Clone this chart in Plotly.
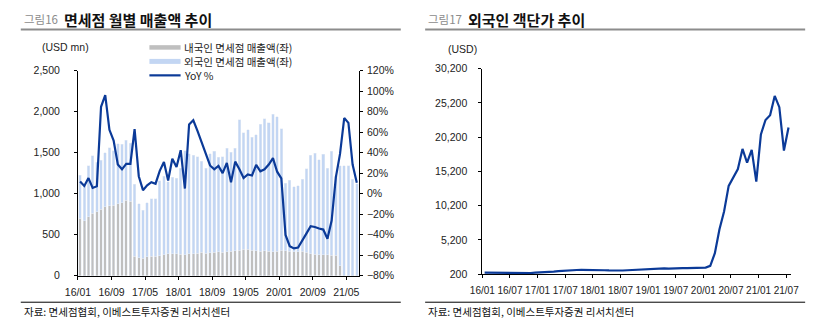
import numpy as np
import pandas as pd
import plotly.graph_objects as go

W, H = 819, 327

# Monthly categories, 2016/01 - 2021/07
months = pd.date_range("2016-01-01", periods=67, freq="MS").strftime("%y/%m").tolist()

# Domestic-customer duty-free sales (USD mn)
domestic_sales = [
    700, 670, 720, 760, 780, 810, 840, 855, 860, 880, 890, 920,
    910, 240, 220, 215, 230, 235, 240, 245, 255, 265, 270, 265,
    260, 255, 265, 270, 275, 285, 275, 280, 285, 290, 285, 290,
    300, 305, 310, 320, 325, 310, 305, 300, 305, 300, 295, 300,
    310, 305, 300, 290, 295, 300, 285, 270, 260, 255, 255, 255,
    250, 250, 120, 0, 0, 0, 0,
]

# Foreign-customer duty-free sales (USD mn)
foreign_sales = [
    525, 450, 620, 700, 600, 600, 660, 705, 660, 730, 710, 730,
    705, 875, 655, 580, 660, 705, 700, 915, 955, 880, 930, 920,
    1050, 1270, 1220, 1195, 1175, 1110, 1035, 1205, 1230, 1155, 1165, 1265,
    1205, 1250, 1590, 1420, 1455, 1375, 1410, 1545, 1605, 1565, 1675, 1640,
    1480, 820, 865, 795, 800, 875, 1020, 1195, 1235, 1160, 1225, 1055,
    1265, 970, 1220, 1340, 1340, 1175, 1120,
]

# Total sales growth, YoY (%)
yoy_pct = [
    11.8, 7.5, 15.2, 5.6, 7.2, 84.7, 96.0, 62.2, 51.7, 28.4, 23.7, 29.0,
    29.0, 62.8, 17.0, 3.4, 8.1, 11.2, 9.7, 22.2, 30.9, 12.8, 34.0, 25.9,
    42.4, 5.0, 67.5, 71.5, 61.2, 49.7, 37.8, 27.5, 23.7, 27.0, 20.0, 30.0,
    11.2, 31.2, 23.7, 15.2, 18.7, 17.7, 28.0, 21.8, 23.7, 28.4, 34.6, 21.4,
    14.8, -40.3, -51.2, -53.4, -52.5, -45.0, -38.7, -31.8, -32.5, -34.0, -35.0, -44.0,
    -26.2, 15.9, 38.7, 73.7, 69.0, 28.4, 10.6,
]

# Spending per foreign customer (USD)
spend_per_customer = [
    400, 390, 370, 350, 330, 310, 300, 300, 310, 330, 360, 400,
    420, 450, 500, 560, 620, 680, 720, 780, 800, 810, 820, 840,
    850, 800, 760, 730, 710, 710, 720, 760, 800, 830, 870, 930,
    980, 1060, 1080, 1040, 1000, 990, 1020, 1060, 1080, 1110, 1170, 1160,
    1140, 1400, 3250, 6750, 9340, 13080, 14260, 15530, 18480, 16460, 18340, 13700,
    20590, 22700, 23400, 26210, 24570, 18240, 21610,
]

GRAY = "#BFBFBF"
LIGHT_BLUE = "#C3D6F3"
NAVY = "#0B3A98"
NUM_FONT = "Liberation Sans, Arial, Noto Sans CJK KR"
KR_FONT = "Noto Sans CJK KR, Liberation Sans"

x_pos = np.arange(len(months)) + 0.5


def px(x):
    return x / W


def py(y):
    return 1 - y / H


fig = go.Figure()

fig.add_trace(go.Bar(x=x_pos, y=domestic_sales, marker_color=GRAY, width=0.6,
                     name="내국인 면세점 매출액(좌)", xaxis="x", yaxis="y", showlegend=False))
fig.add_trace(go.Bar(x=x_pos, y=foreign_sales, marker_color=LIGHT_BLUE, width=0.6,
                     name="외국인 면세점 매출액(좌)", xaxis="x", yaxis="y", showlegend=False))
fig.add_trace(go.Scatter(x=x_pos, y=yoy_pct, mode="lines", line=dict(color=NAVY, width=2.2),
                         name="YoY %", xaxis="x", yaxis="y2", showlegend=False))
fig.add_trace(go.Scatter(x=x_pos, y=spend_per_customer, mode="lines",
                         line=dict(color=NAVY, width=2.2), name="객단가",
                         xaxis="x3", yaxis="y3", showlegend=False))

axis_common = dict(showline=True, linecolor="black", linewidth=1, ticks="outside",
                   ticklen=3, tickcolor="black", showgrid=False, zeroline=False)


def tick_font(size):
    return dict(family=NUM_FONT, size=size, color="#222")


fig.update_layout(
    width=W, height=H,
    margin=dict(l=0, r=0, t=0, b=0),
    paper_bgcolor="white", plot_bgcolor="white",
    barmode="stack",
    font=dict(family=NUM_FONT, size=11, color="#222"),
    xaxis=dict(domain=[px(66.7), px(355)], range=[0, 67], anchor="y",
               tickmode="array", tickvals=list(range(0, 67, 8)), ticktext=months[0::8],
               tickfont=tick_font(10.5), ticklabelstandoff=4, **axis_common),
    yaxis=dict(domain=[py(280), py(67)], range=[0, 2500], dtick=500, tickformat=",",
               anchor="x", tickfont=tick_font(10.5), ticklabelstandoff=12, **axis_common),
    yaxis2=dict(overlaying="y", side="right", anchor="x", range=[-80, 120], dtick=20,
                ticksuffix="%", tickfont=tick_font(10.5), ticklabelstandoff=2, **axis_common),
    xaxis3=dict(domain=[px(481.7), px(798.3)], range=[0, 67], anchor="y3",
                tickmode="array", tickvals=list(range(0, 67, 6)), ticktext=months[0::6],
                tickfont=tick_font(10), ticklabelstandoff=4, **axis_common),
    yaxis3=dict(domain=[py(278.3), py(65)], range=[200, 30200], anchor="x3",
                tickmode="array", tickvals=list(range(200, 30201, 5000)), tickformat=",",
                tickfont=tick_font(10.5), ticklabelstandoff=9, **axis_common),
)

shapes = []
annotations = []

# Panel headers with grey rules underneath, and source footers
for x0, x1, fig_no, title in [(8, 398, "그림16", "면세점 월별 매출액 추이"),
                              (423, 813, "그림17", "외국인 객단가 추이")]:
    shapes.append(dict(type="line", xref="paper", yref="paper",
                       x0=px(x0), x1=px(x1), y0=py(24.5), y1=py(24.5),
                       line=dict(color="#8C8C8C", width=2)))
    annotations.append(dict(xref="paper", yref="paper", x=px(x0 + 1), y=py(13.5),
                            xanchor="left", yanchor="middle", showarrow=False,
                            text=fig_no, font=dict(family=KR_FONT, size=11.5, color="#8C8C8C")))
    annotations.append(dict(xref="paper", yref="paper", x=px(x0 + 42), y=py(13.5),
                            xanchor="left", yanchor="middle", showarrow=False,
                            text="<b>" + title + "</b>",
                            font=dict(family=KR_FONT, size=15, color="#111")))
    shapes.append(dict(type="line", xref="paper", yref="paper",
                       x0=px(x0), x1=px(x1), y0=py(307.5), y1=py(307.5),
                       line=dict(color="black", width=1)))
    annotations.append(dict(xref="paper", yref="paper", x=px(x0 + 1), y=py(317),
                            xanchor="left", yanchor="middle", showarrow=False,
                            text="자료: 면세점협회, 이베스트투자증권 리서치센터",
                            font=dict(family=KR_FONT, size=10.5, color="#111")))

# Unit labels
annotations.append(dict(xref="paper", yref="paper", x=px(28), y=py(43),
                        xanchor="left", yanchor="middle", showarrow=False,
                        text="(USD mn)", font=tick_font(10.5)))
annotations.append(dict(xref="paper", yref="paper", x=px(444), y=py(45),
                        xanchor="left", yanchor="middle", showarrow=False,
                        text="(USD)", font=tick_font(10.5)))

# Legend for the left panel
legend_rows = [(43, GRAY, 4.5, "내국인 면세점 매출액(좌)"),
               (57.5, LIGHT_BLUE, 5, "외국인 면세점 매출액(좌)"),
               (72, NAVY, 2.2, "YoY %")]
for yy, color, lw, label in legend_rows:
    shapes.append(dict(type="line", xref="paper", yref="paper",
                       x0=px(140), x1=px(172), y0=py(yy), y1=py(yy),
                       line=dict(color=color, width=lw)))
    annotations.append(dict(xref="paper", yref="paper", x=px(174), y=py(yy),
                            xanchor="left", yanchor="middle", showarrow=False,
                            text=label, font=dict(family=KR_FONT, size=10.5, color="#222"),
                            borderpad=0))

fig.update_layout(shapes=shapes, annotations=annotations)

fig.write_html("out.html", config={"displayModeBar": False})
